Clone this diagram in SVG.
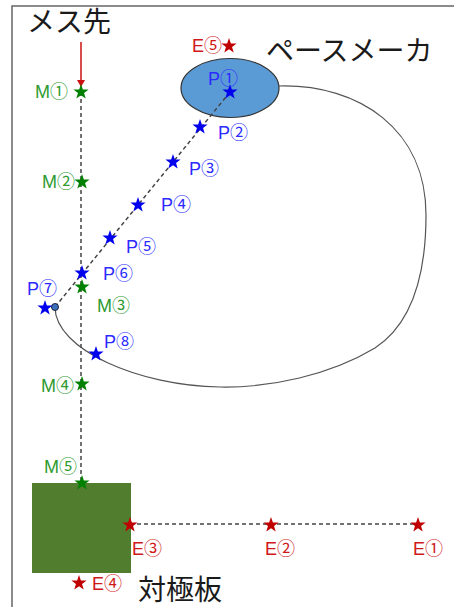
<svg xmlns="http://www.w3.org/2000/svg" width="454" height="607" viewBox="0 0 454 607">
<style>
.lbl{font-family:"Liberation Sans","Noto Sans CJK JP",sans-serif;font-size:18px}
.g{fill:#2f9a2f}.b{fill:#2b2bff}.r{fill:#d01818}
.title{font-family:"Noto Sans CJK JP",sans-serif;font-size:28px;fill:#1a1a1a}
.dash{stroke:#444;stroke-width:1.5;stroke-dasharray:4 3;fill:none}
</style>
<defs>
<path id="star" d="M0,-8 L1.88,-2.59 L7.61,-2.47 L3.04,0.99 L4.7,6.47 L0,3.2 L-4.7,6.47 L-3.04,0.99 L-7.61,-2.47 L-1.88,-2.59 Z"/>
<marker id="ah" markerWidth="8" markerHeight="8" refX="6" refY="4" orient="auto" markerUnits="userSpaceOnUse">
<path d="M0,0 L7,4 L0,8 Z" fill="#cc1111"/>
</marker>
</defs>
<rect width="454" height="607" fill="#fff"/>
<path d="M12,607 V6 H454" fill="none" stroke="#666" stroke-width="1.5"/>

<g id="plate"><rect x="32" y="483" width="99" height="90" fill="#507d2e"/></g>
<g id="pacemaker"><ellipse cx="230" cy="88" rx="49" ry="29.5" fill="#5b9bd5" stroke="#333" stroke-width="1.2"/></g>

<g id="connectors">
<line x1="81" y1="92" x2="81" y2="483" class="dash"/>
<line x1="130" y1="524" x2="418" y2="524" class="dash"/>
<line x1="230" y1="92" x2="55" y2="307" class="dash"/>
<line x1="81" y1="42" x2="81" y2="86" stroke="#cc1111" stroke-width="1.5" marker-end="url(#ah)"/>
<path d="M279,86 C360,84 426,130 426,215 C426,280 410,325 375,348 C330,375 270,388 220,387 C140,386 55,350 55,307" fill="none" stroke="#555" stroke-width="1.2"/>
<circle cx="55" cy="307" r="3.5" fill="#3a6fc0" stroke="#223" stroke-width="1"/>
</g>

<g id="title-mes"><text class="title" x="27" y="32">メス先</text></g>
<g id="title-pm"><text class="title" x="266" y="61">ペースメーカ</text></g>
<g id="title-plate"><text class="title" x="138" y="600">対極板</text></g>

<g id="M1"><use href="#star" x="81" y="92" fill="#008000"/><text class="lbl g" x="35" y="98">M①</text></g>
<g id="M2"><use href="#star" x="82" y="182" fill="#008000"/><text class="lbl g" x="42" y="188">M②</text></g>
<g id="M3"><use href="#star" x="82" y="287" fill="#008000"/><text class="lbl g" x="97" y="312">M③</text></g>
<g id="M4"><use href="#star" x="82" y="384" fill="#008000"/><text class="lbl g" x="41" y="392">M④</text></g>
<g id="M5"><use href="#star" x="82" y="483" fill="#008000"/><text class="lbl g" x="44" y="473">M⑤</text></g>

<g id="P1"><use href="#star" x="230" y="92" fill="#0000ee"/><text class="lbl b" x="208" y="85">P①</text></g>
<g id="P2"><use href="#star" x="200" y="127" fill="#0000ee"/><text class="lbl b" x="218" y="139">P②</text></g>
<g id="P3"><use href="#star" x="173" y="162" fill="#0000ee"/><text class="lbl b" x="189" y="175">P③</text></g>
<g id="P4"><use href="#star" x="138" y="205" fill="#0000ee"/><text class="lbl b" x="161" y="211">P④</text></g>
<g id="P5"><use href="#star" x="110" y="238" fill="#0000ee"/><text class="lbl b" x="126" y="253">P⑤</text></g>
<g id="P6"><use href="#star" x="82" y="273" fill="#0000ee"/><text class="lbl b" x="103" y="280">P⑥</text></g>
<g id="P7"><use href="#star" x="45" y="308" fill="#0000ee"/><text class="lbl b" x="27" y="295">P⑦</text></g>
<g id="P8"><use href="#star" x="96" y="354" fill="#0000ee"/><text class="lbl b" x="104" y="348">P⑧</text></g>

<g id="E1"><use href="#star" x="418" y="525" fill="#c00000"/><text class="lbl r" x="413" y="555">E①</text></g>
<g id="E2"><use href="#star" x="271" y="525" fill="#c00000"/><text class="lbl r" x="265" y="555">E②</text></g>
<g id="E3"><use href="#star" x="130" y="525" fill="#c00000"/><text class="lbl r" x="132" y="555">E③</text></g>
<g id="E4"><use href="#star" x="79" y="583" fill="#c00000"/><text class="lbl r" x="92" y="590">E④</text></g>
<g id="E5"><use href="#star" x="229" y="46" fill="#c00000"/><text class="lbl r" x="192" y="52">E⑤</text></g>
</svg>
